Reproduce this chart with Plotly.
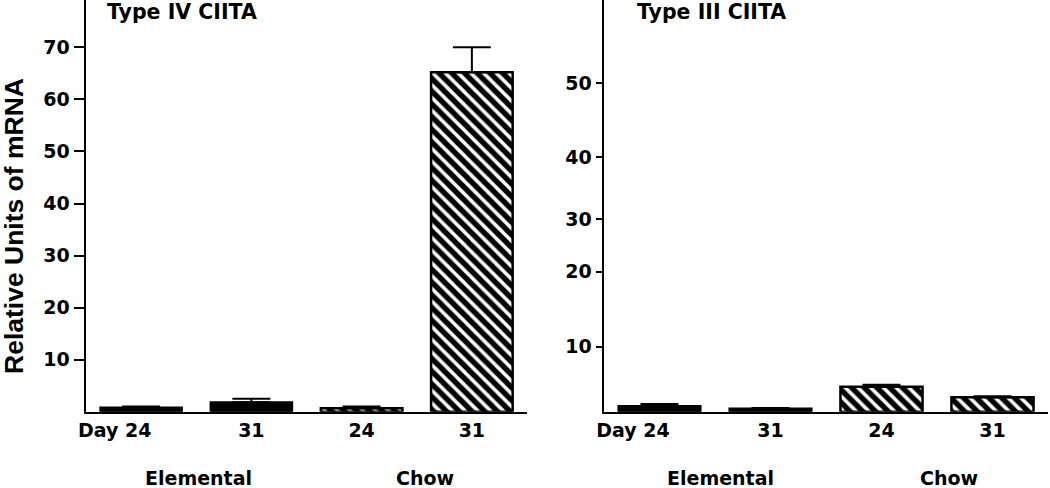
import plotly.graph_objects as go

# ---- data ----
x_pos = [0, 1, 2, 3]
x_labels = ["Day 24", "31", "24", "31"]
diets = ["Elemental", "Chow"]

type4_elemental = [0.8, 1.8]
type4_elemental_err = [0.2, 0.7]
type4_chow = [0.65, 65.2]
type4_chow_err = [0.35, 4.8]

type3_elemental = [0.87, 0.5]
type3_elemental_err = [0.3, 0.05]
type3_chow = [3.8, 2.2]
type3_chow_err = [0.3, 0.15]

type4_ticks = [10, 20, 30, 40, 50, 60, 70]
type3_tick_pos = [9.9, 21.3, 29.3, 38.8, 50]
type3_tick_text = ["10", "20", "30", "40", "50"]

FONT = "DejaVu Sans"
W, H = 1050, 488

fig = go.Figure()

def add_panel(xa, ya, elem, elem_err, chow, chow_err):
    fig.add_trace(go.Bar(
        x=x_pos[:2], y=elem, width=0.74, xaxis=xa, yaxis=ya,
        marker=dict(color="black", line=dict(color="black", width=2)),
        error_y=dict(type="data", array=elem_err, arrayminus=[0] * len(elem_err),
                     symmetric=False, color="black", thickness=2, width=19),
        showlegend=False, name=diets[0]))
    fig.add_trace(go.Bar(
        x=x_pos[2:], y=chow, width=0.74, xaxis=xa, yaxis=ya,
        marker=dict(color="white", line=dict(color="black", width=2.5),
                    pattern=dict(shape="\\", fgcolor="black", bgcolor="white",
                                 fgopacity=1, size=9, solidity=0.6)),
        error_y=dict(type="data", array=chow_err, arrayminus=[0] * len(chow_err),
                     symmetric=False, color="black", thickness=2, width=19),
        showlegend=False, name=diets[1]))

add_panel("x", "y", type4_elemental, type4_elemental_err, type4_chow, type4_chow_err)
add_panel("x2", "y2", type3_elemental, type3_elemental_err, type3_chow, type3_chow_err)

pad = "\u00a0" * 8
tick_text = [x_labels[0] + pad] + x_labels[1:]

ybot = (H - 411.7) / H
xdom1 = [86 / W, 527 / W]
xdom2 = [604 / W, 1048 / W]

tfont = dict(family=FONT, size=19, color="black", weight="bold")
xcommon = dict(range=[-0.5, 3.5], tickvals=x_pos, ticktext=tick_text, ticks="",
               showline=True, linecolor="black", linewidth=2.5, showgrid=False,
               zeroline=False, tickfont=tfont, fixedrange=True, automargin=False)
ycommon = dict(showline=True, linecolor="black", linewidth=2.5, showgrid=False,
               zeroline=False, ticks="outside", tickwidth=2, tickcolor="black",
               tickfont=tfont, domain=[ybot, 1.0], automargin=False, fixedrange=True)

fig.update_layout(
    width=W, height=H, autosize=False,
    margin=dict(l=0, r=0, t=0, b=0, pad=0),
    plot_bgcolor="white", paper_bgcolor="white",
    barmode="overlay",
    font=dict(family=FONT, color="black"),
    xaxis=dict(domain=xdom1, anchor="y", **xcommon),
    xaxis2=dict(domain=xdom2, anchor="y2", **xcommon),
    yaxis=dict(anchor="x", range=[0, 79.1], tickvals=type4_ticks, ticklen=10, **ycommon),
    yaxis2=dict(anchor="x2", range=[0, 62.7], tickvals=type3_tick_pos,
                ticktext=type3_tick_text, ticklen=6, **ycommon),
)

ann_font = dict(family=FONT, size=19, color="black", weight="bold")
title_font = dict(family=FONT, size=20.5, color="black", weight="bold")
annotations = [
    dict(text="Type IV CIITA", x=105 / W, y=1 - 12 / H, xref="paper", yref="paper",
         xanchor="left", yanchor="middle", showarrow=False, font=title_font),
    dict(text="Type III CIITA", x=635 / W, y=1 - 12 / H, xref="paper", yref="paper",
         xanchor="left", yanchor="middle", showarrow=False, font=title_font),
    dict(text="Relative Units of mRNA", x=14 / W, y=(H - 226) / H, xref="paper",
         yref="paper", textangle=-90, xanchor="center", yanchor="middle", showarrow=False,
         font=dict(family="Liberation Sans", size=26.5, color="black", weight="bold")),
    dict(text=diets[0], x=0.5, y=(H - 478) / H, xref="x", yref="paper",
         xshift=2, xanchor="center", yanchor="middle", showarrow=False, font=ann_font),
    dict(text=diets[1], x=2.5, y=(H - 478) / H, xref="x", yref="paper",
         xshift=8, xanchor="center", yanchor="middle", showarrow=False, font=ann_font),
    dict(text=diets[0], x=0.5, y=(H - 478) / H, xref="x2", yref="paper",
         xshift=5, xanchor="center", yanchor="middle", showarrow=False, font=ann_font),
    dict(text=diets[1], x=2.5, y=(H - 478) / H, xref="x2", yref="paper",
         xshift=12, xanchor="center", yanchor="middle", showarrow=False, font=ann_font),
]
fig.update_layout(annotations=annotations)

fig.write_html("out.html", config={"displayModeBar": False, "staticPlot": True},
               post_script="document.body.style.margin='0';document.body.style.overflow='hidden';")
